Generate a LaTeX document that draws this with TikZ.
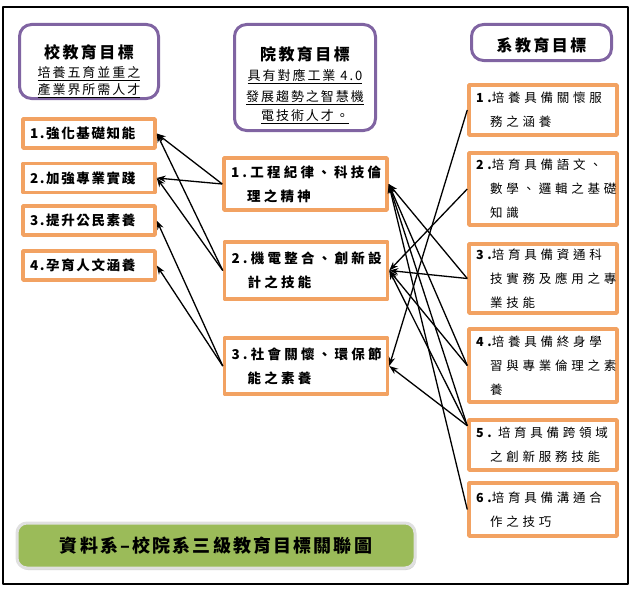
\documentclass[tikz,border=0pt]{standalone}
\usepackage{fontspec}
\newfontfamily\cjk{Noto Sans CJK TC}
\usetikzlibrary{arrows.meta,calc,shadows}
\definecolor{headpurple}{RGB}{128,100,162}
\definecolor{goalorange}{RGB}{242,162,98}
\definecolor{bannergreen}{RGB}{155,187,89}
\begin{document}
\begin{tikzpicture}[x=1pt, y=-1pt, line join=round, >={Stealth[length=9pt,width=6.5pt]},
  head/.style={draw=headpurple, line width=3pt, rounded corners=12pt, align=center, inner sep=0pt,
    font=\cjk\fontsize{13}{19}\selectfont\addfontfeature{LetterSpace=15}},
  goalbox/.style={draw=goalorange, line width=3.5pt, align=left, inner xsep=7pt, inner ysep=0pt},
  schoolgoal/.style={goalbox, minimum width=132pt, minimum height=29pt, text width=118pt,
    font=\cjk\bfseries\fontsize{13.5}{18}\selectfont\addfontfeature{LetterSpace=12}},
  collegegoal/.style={goalbox, minimum width=163pt, text width=149pt,
    font=\cjk\bfseries\fontsize{13.5}{24}\selectfont\addfontfeature{LetterSpace=24}},
  deptgoal/.style={goalbox, minimum width=148pt, text width=134pt,
    font=\cjk\fontsize{12.5}{24}\selectfont\addfontfeature{LetterSpace=30}},
  link/.style={->, line width=1.3pt},
  banner/.style={fill=bannergreen, draw=black!12, line width=3pt, rounded corners=10pt,
    drop shadow={shadow xshift=1pt, shadow yshift=-2pt, fill=black!35},
    font=\cjk\bfseries\fontsize{18}{22}\selectfont\addfontfeature{LetterSpace=12}}]
  \useasboundingbox (0,0) rectangle (636,594);
  \draw[line width=2pt] (3,7) rectangle (628,584);
  % three headings
  \node[head, minimum width=139pt, minimum height=74pt] (school) at (89,61.5)
    {\rule{0pt}{34pt}{\bfseries\fontsize{16}{20}\selectfont 校教育目標}\\ \underline{培養五育並重之}\\[-2pt] \underline{產業界所需人才}};
  \node[head, minimum width=141pt, minimum height=106pt] (college) at (305,77.5)
    {\rule{0pt}{30pt}{\bfseries\fontsize{16}{20}\selectfont 院教育目標}\\[1pt] \underline{具有對應工業 4.0}\\[2pt] \underline{發展趨勢之智慧機}\\ \underline{電技術人才。}};
  \node[head, minimum width=140pt, minimum height=36pt] (dept) at (541.5,42.5)
    {\rule{0pt}{20pt}{\bfseries\fontsize{16}{20}\selectfont 系教育目標}};
  % school goals
  \node[schoolgoal] (s1) at (89,133.5) {1.強化基礎知能};
  \node[schoolgoal] (s2) at (89,178) {2.加強專業實踐};
  \node[schoolgoal] (s3) at (89,220.5) {3.提升公民素養};
  \node[schoolgoal] (s4) at (89,265.5) {4.孕育人文涵養};
  % college goals
  \node[collegegoal, minimum height=52pt] (c1) at (305.5,184) {1.工程紀律、科技倫\\\phantom{1.}理之精神};
  \node[collegegoal, minimum height=57pt] (c2) at (306,270.5) {2.機電整合、創新設\\\phantom{1.}計之技能};
  \node[collegegoal, minimum height=56pt] (c3) at (306,366) {3.社會關懷、環保節\\\phantom{1.}能之素養};
  % department goals
  \node[deptgoal, minimum height=50pt] (d1) at (543,110) {{\bfseries 1.}培養具備關懷服\\\phantom{1.}務之涵養};
  \node[deptgoal, minimum height=72pt] (d2) at (543,189) {{\bfseries 2.}培育具備語文、\\\phantom{1.}數學、邏輯之基礎\\\phantom{1.}知識};
  \node[deptgoal, minimum height=69pt] (d3) at (543,278.5) {{\bfseries 3.}培育具備資通科\\\phantom{1.}技實務及應用之專\\\phantom{1.}業技能};
  \node[deptgoal, minimum height=73pt] (d4) at (543,365.5) {{\bfseries 4.}培養具備終身學\\\phantom{1.}習與專業倫理之素\\\phantom{1.}養};
  \node[deptgoal, minimum height=50pt] (d5) at (543,445) {{\bfseries 5.} 培育具備跨領域\\\phantom{1.}之創新服務技能};
  \node[deptgoal, minimum height=53pt] (d6) at (543,509.5) {{\bfseries 6.}培育具備溝通合\\\phantom{1.}作之技巧};
  \coordinate (d5in) at ($(d5.north west)!0.14!(d5.south west)$);
  % college -> school
  \draw[link] (c1.west) -- (s1.east);
  \draw[link] (c1.west) -- (s2.east);
  \draw[link] (c2.west) -- (s1.east);
  \draw[link] (c2.west) -- (s2.east);
  \draw[link] (c3.west) -- (s3.east);
  \draw[link] (c3.west) -- (s4.east);
  % department -> college
  \foreach \d in {d3,d4,d5in,d6} \draw[link] (\d.west) -- (c1.east);
  \foreach \d in {d2,d3,d4,d5in} \draw[link] (\d.west) -- (c2.east);
  \draw[link] (d1.west) -- (c3.east);
  \draw[link] (d5in) -- (c3.east);
  % title
  \node[banner, minimum width=398pt, minimum height=45pt] (title) at (216,545.5) {資料系–校院系三級教育目標關聯圖};
\end{tikzpicture}
\end{document}
